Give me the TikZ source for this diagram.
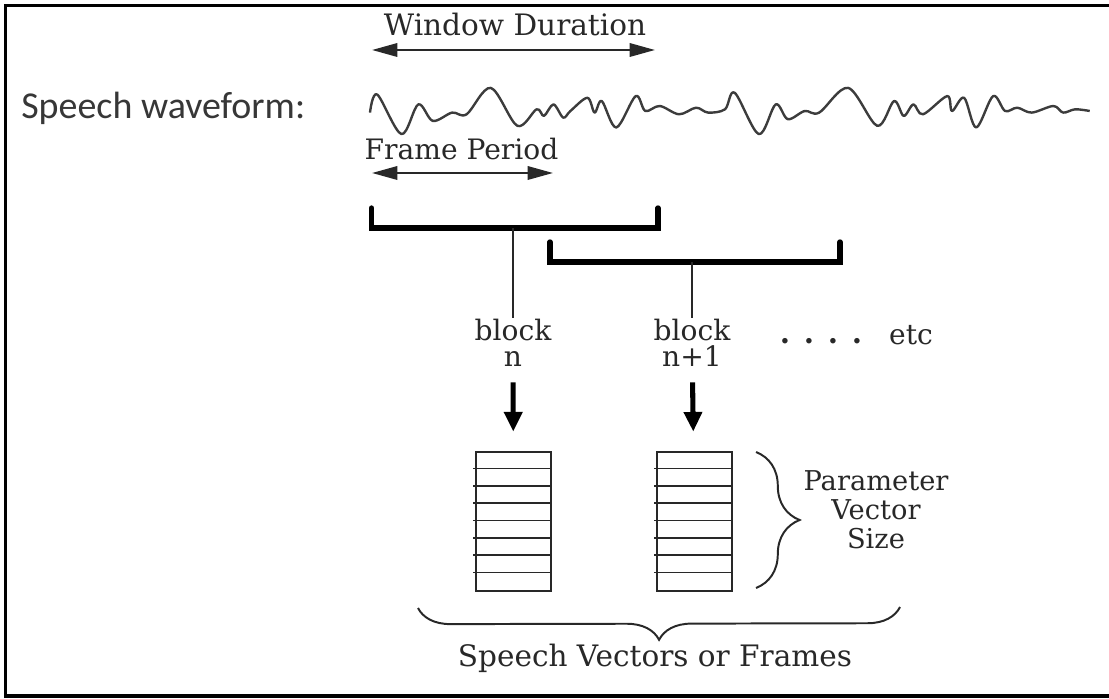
\documentclass[tikz,border=0pt]{standalone}
\usepackage{fontspec}
\setmainfont{DejaVu Serif}
\newfontfamily\waveLabelFont{Carlito}
\usepackage{tkz-euclide}
\usetikzlibrary{arrows.meta,calc,decorations.pathreplacing}
\definecolor{InkClr}{RGB}{40,40,40}
\definecolor{WaveClr}{RGB}{60,60,60}
\definecolor{LabelClr}{RGB}{55,55,55}

\tikzset{
  lbl/.style={text=InkClr,inner sep=0pt},
  dimarrow/.style={{Triangle[length=18pt,width=9.5pt]}-{Triangle[length=18pt,width=9.5pt]},line width=1.6pt,color=InkClr},
  bigarrow/.style={-{Triangle[length=14pt,width=12.5pt]},line width=3.6pt,color=black},
  vecbox/.style={draw=InkClr,line width=1.3pt,minimum width=53pt,minimum height=98.5pt,inner sep=0pt},
  cellrule/.style={InkClr,line width=1.2pt},
  curly/.style={decorate,InkClr,line width=1.4pt}
}

\begin{document}
\begin{tikzpicture}[x=.025cm,y=.025cm]
\useasboundingbox (0,0) rectangle (1109,698);
\tkzSetUpLine[line width=1pt,color=InkClr]

\tkzDefPoints{1109/692.5/F1,5.5/692.5/F2,5.5/2/F3,1109/2/F4}
\tkzDrawPolySeg[line width=2.5pt,color=black](F1,F2,F3,F4)

\node[lbl,anchor=base,font=\fontsize{21}{24}\selectfont] (wdur) at (515,662) {Window Duration};
\node[lbl,anchor=base west,text=LabelClr,font=\waveLabelFont\fontsize{27}{30}\selectfont] (swave) at (21,579) {Speech waveform:};
\node[lbl,anchor=base,font=\fontsize{20}{24}\selectfont] (fper) at (461.5,538) {Frame Period};

\tkzDefPoints{372/648/W1,655/648/W2,372/525/P1,553/525/P2}
\tkzDrawSegments[dimarrow](W1,W2 P1,P2)

\draw[WaveClr,line width=1.7pt,line join=round] plot[smooth,tension=.55] coordinates {
  (370,585.4) (377.2,603.5) (401.4,563.9) (418.3,593.6) (432.8,577.1) (452.1,585.4)
  (466.6,583.7) (490.8,610.1) (517.3,572.2) (536.6,588.7) (543.9,582.1) (553.5,593.6)
  (563.2,580.4) (570.4,587) (587.4,600.2) (594.6,585.4) (601.8,596.9) (616.3,570.5)
  (635.7,601.9) (645.3,587) (659.8,592) (679.1,583.7) (696,590.3) (708.1,585.4)
  (725,588.7) (734.7,605.2) (758.8,563.9) (775.7,593.6) (787.8,578.8) (804.7,587)
  (819.2,585.4) (848.2,610.1) (877.2,572.2) (894,596.9) (903.7,582.1) (913.4,593.6)
  (923,583.7) (947.2,601.9) (952,587) (964.1,600.2) (976.2,570.5) (993.1,601.9)
  (1005.1,587) (1017.2,590.3) (1031.7,585.4) (1053.4,592) (1063.1,585.4) (1075.2,588.7)
  (1089.7,587)};

\tkzDefPoints{371.5/490/A1,371.5/470/A2,658/470/A3,658/490/A4}
\tkzDefPoints{550/456/B1,550/436/B2,840/436/B3,840/456/B4}
\tkzDrawPolySeg[line width=3.8pt,color=black](A1,A2,A3,A4)
\tkzDrawPolySeg[line width=3.8pt,color=black](B1,B2,B3,B4)
\tkzDefPoints{513/470/SA,692/436/SB}

\node[lbl,align=center,anchor=south,font=\fontsize{20}{19}\selectfont] (blkA) at (513,331) {block\\n};
\node[lbl,align=center,anchor=south,font=\fontsize{20}{19}\selectfont] (blkB) at (692,331) {block\\n+1};
\node[lbl,anchor=base,font=\bfseries\fontsize{21}{24}\selectfont] (dots) at (821,354) {. . . .};
\node[lbl,anchor=base,font=\fontsize{20}{24}\selectfont] (etc) at (911,353) {etc};

\draw[InkClr,line width=1pt] (SA) -- (blkA.north);
\draw[InkClr,line width=1pt] (SB) -- (blkB.north);

\node[vecbox] (vecA) at (513.5,176.5) {};
\node[vecbox] (vecB) at (694.5,176.5) {};
\foreach \v in {vecA,vecB}
  \foreach \k in {1,...,7}
    \draw[cellrule] ([xshift=-1.5pt,yshift=-\k*12.31pt]\v.north west) -- ([yshift=-\k*12.31pt]\v.north east);

\draw[bigarrow,shorten <=11pt,shorten >=14pt] (blkA) -- (vecA);
\draw[bigarrow,shorten <=11pt,shorten >=14pt] (blkB) -- (vecB);

\tkzDefPoints{756/246/R1,756/110/R2,900/91/D1,418/90/D2}
\draw[curly,decoration={brace,amplitude=31pt}] (R1) -- (R2);
\draw[curly,decoration={brace,amplitude=23pt}] (D1) -- (D2);

\node[lbl,align=center,font=\fontsize{19.4}{20.5}\selectfont] (pvs) at (876,188) {Parameter\\Vector\\Size};
\node[lbl,anchor=base,font=\fontsize{21}{24}\selectfont] (svec) at (655,32) {Speech Vectors or Frames};

\end{tikzpicture}
\end{document}
